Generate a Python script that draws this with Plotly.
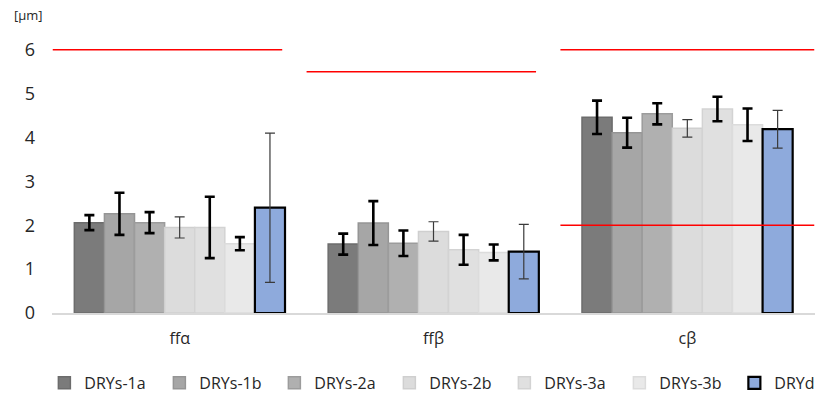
import plotly.graph_objects as go

categories = ["ffα", "ffβ", "cβ"]
series_names = ["DRYs-1a", "DRYs-1b", "DRYs-2a", "DRYs-2b", "DRYs-3a", "DRYs-3b", "DRYd"]
values = {
    "DRYs-1a": [2.06, 1.57, 4.46],
    "DRYs-1b": [2.26, 2.05, 4.11],
    "DRYs-2a": [2.06, 1.59, 4.54],
    "DRYs-2b": [1.95, 1.86, 4.21],
    "DRYs-3a": [1.95, 1.44, 4.65],
    "DRYs-3b": [1.58, 1.38, 4.29],
    "DRYd":    [2.40, 1.40, 4.19],
}
errors = {
    "DRYs-1a": [0.17, 0.24, 0.38],
    "DRYs-1b": [0.48, 0.50, 0.34],
    "DRYs-2a": [0.24, 0.29, 0.24],
    "DRYs-2b": [0.24, 0.22, 0.20],
    "DRYs-3a": [0.70, 0.34, 0.28],
    "DRYs-3b": [0.15, 0.18, 0.37],
    "DRYd":    [1.70, 0.62, 0.43],
}
# reference limits (red lines): upper per category, lower for cβ
upper_limits = [6.0, 5.5, 6.0]
lower_limits = [None, None, 2.0]
y_ticks = [0, 1, 2, 3, 4, 5, 6]

fills = ["#7b7b7b", "#a6a6a6", "#b0b0b0", "#dcdcdc", "#e0e0e0", "#e9e9e9", "#8eaadc"]
borders = ["#6c6c6c", "#959595", "#9c9c9c", "#cfcfcf", "#d3d3d3", "#dcdcdc", "#000000"]
border_w = [1.5, 1.5, 1.5, 1.5, 1.5, 1.5, 2.2]
err_thick = [True, True, True, False, True, True, False]

fig = go.Figure()
for i, name in enumerate(series_names):
    fig.add_trace(go.Bar(
        name=name, x=categories, y=values[name],
        marker=dict(color=fills[i], line=dict(color=borders[i], width=border_w[i])),
        error_y=dict(type="data", array=errors[name], visible=True,
                     color="#000000" if err_thick[i] else "#3a3a3a",
                     thickness=2.6 if err_thick[i] else 1.2, width=5),
    ))

# red limit lines spanning the category slots
spans = [(-0.5, 0.404), (0.5, 1.404), (1.5, 2.5)]
shapes = []
for k, (x0, x1) in enumerate(spans):
    for lim in (upper_limits[k], lower_limits[k]):
        if lim is None:
            continue
        shapes.append(dict(type="line", xref="x", yref="y", x0=x0, x1=x1, y0=lim, y1=lim,
                           line=dict(color="#ff0000", width=1.5), layer="above"))

fig.update_layout(
    width=831, height=396,
    margin=dict(l=52, r=16, t=41, b=83, autoexpand=False),
    paper_bgcolor="white", plot_bgcolor="white",
    barmode="group", bargap=0.17, bargroupgap=0,
    font=dict(family="Open Sans", size=16, color="#262626"),
    shapes=shapes,
    showlegend=True,
    legend=dict(orientation="h", x=-0.01, xanchor="left", y=-0.257, yanchor="middle",
                entrywidth=70, entrywidthmode="pixels",
                font=dict(size=16, family="Open Sans", color="#262626"),
                traceorder="normal", itemclick=False),
    annotations=[dict(text="[μm]", xref="paper", yref="paper", x=-0.031, y=1.096,
                      xanchor="center", yanchor="middle", showarrow=False,
                      font=dict(size=13, color="#262626"))],
)
fig.update_xaxes(showline=True, linecolor="#d9d9d9", linewidth=1.5, ticks="",
                 tickfont=dict(size=16), showgrid=False, ticklabelstandoff=10)
fig.update_yaxes(range=[0, 6.2], tickvals=y_ticks, showgrid=False, zeroline=False,
                 showline=False, ticks="", tickfont=dict(size=18), ticklabelstandoff=16)

fig.write_html("out.html")
